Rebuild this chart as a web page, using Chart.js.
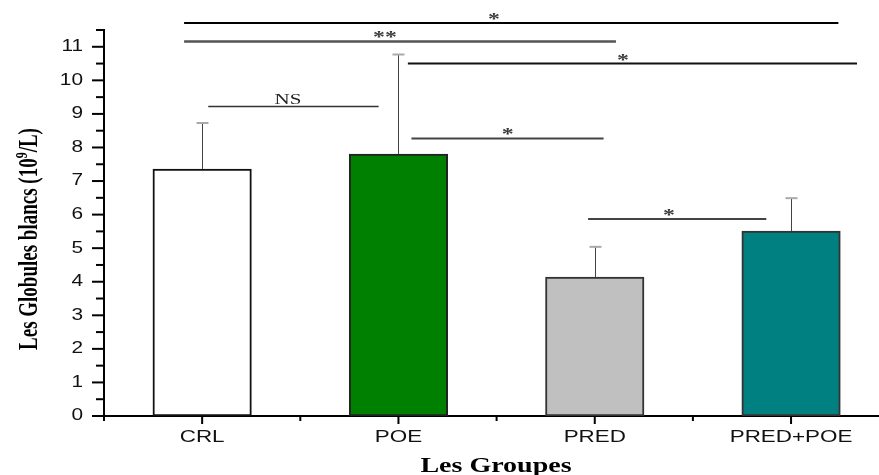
<!DOCTYPE html>
<html><head><meta charset="utf-8">
<script src="https://cdn.jsdelivr.net/npm/chart.js@4/dist/chart.umd.min.js"></script>
<style>html,body{margin:0;padding:0;background:#fff;overflow:hidden}canvas{display:block}</style>
</head><body>
<canvas id="c" width="879" height="475"></canvas>
<script>
// ---- data ----
const categories = ['CRL', 'POE', 'PRED', 'PRED+POE'];
const means = [7.36, 7.80, 4.14, 5.51];
const sem = [1.37, 2.97, 0.90, 0.98];
const yTickValues = [0, 1, 2, 3, 4, 5, 6, 7, 8, 9, 10, 11];
const xTitle = 'Les Groupes';
const yTitleParts = ['Les Globules blancs (10', '9', '/L)'];
// significance brackets: from/to in category units, y in data units
const brackets = [
  { from: -0.092, to: 3.241, y: 11.71, label: '*',  labelAt: 1.487 },
  { from: -0.092, to: 2.108, y: 11.16, label: '**', labelAt: 0.931 },
  { from: 0.031,  to: 0.899, y: 9.22,  label: 'NS', labelAt: 0.437 },
  { from: 1.048,  to: 3.336, y: 10.50, label: '*',  labelAt: 2.144 },
  { from: 1.066,  to: 2.045, y: 8.27,  label: '*',  labelAt: 1.556 },
  { from: 1.966,  to: 2.874, y: 5.87,  label: '*',  labelAt: 2.378 }
];

// ---- styles ----
const barColors = ['#ffffff', '#008000', '#c0c0c0', '#008080'];
const barBorders = ['#111111', '#222222', '#333333', '#333333'];
const bracketColors = ['#000000', '#555555', '#333333', '#111111', '#444444', '#444444'];
const bracketWidths = [2, 2.5, 1.5, 2, 2, 2];
const SX = 1.4; // horizontal stretch of the original picture's text

function stretchedText(ctx, text, x, y, font, align, baseline, color, sx) {
  ctx.save();
  ctx.translate(x, y);
  ctx.scale(sx, 1);
  ctx.font = font;
  ctx.textAlign = align;
  ctx.textBaseline = baseline;
  ctx.fillStyle = color;
  ctx.fillText(text, 0, 0);
  ctx.restore();
}

const decor = {
  id: 'decor',
  afterDatasetsDraw(chart) {
    const ctx = chart.ctx, xs = chart.scales.x, ys = chart.scales.y;
    ctx.save();
    means.forEach((m, i) => {
      const px = Math.round(xs.getPixelForValue(i)) + 0.5;
      const y0 = ys.getPixelForValue(m);
      const y1 = ys.getPixelForValue(m + sem[i]);
      ctx.strokeStyle = '#444';
      ctx.lineWidth = 1;
      ctx.beginPath(); ctx.moveTo(px, y0); ctx.lineTo(px, y1); ctx.stroke();
      ctx.strokeStyle = '#aaa';
      ctx.lineWidth = 2;
      ctx.beginPath(); ctx.moveTo(px - 6, y1); ctx.lineTo(px + 6, y1); ctx.stroke();
    });
    ctx.restore();
  },
  afterDraw(chart) {
    const ctx = chart.ctx, xs = chart.scales.x, ys = chart.scales.y;
    const area = chart.chartArea;
    ctx.save();
    ctx.strokeStyle = '#000';
    ctx.lineWidth = 2;
    // y ticks
    yTickValues.forEach(v => {
      const py = ys.getPixelForValue(v);
      ctx.beginPath(); ctx.moveTo(area.left - 12, py); ctx.lineTo(area.left, py); ctx.stroke();
      const mv = v + 0.5;
      if (mv <= ys.max + 1e-9) {
        const pm = ys.getPixelForValue(mv);
        ctx.beginPath(); ctx.moveTo(area.left - 8, pm); ctx.lineTo(area.left, pm); ctx.stroke();
      }
      stretchedText(ctx, String(v), area.left - 21, py, '16px "Liberation Sans", Arial, sans-serif', 'right', 'middle', '#111', 1.3);
    });
    // x ticks
    categories.forEach((c, i) => {
      const px = xs.getPixelForValue(i);
      ctx.beginPath(); ctx.moveTo(px, area.bottom); ctx.lineTo(px, area.bottom + 8); ctx.stroke();
      const pm = xs.getPixelForValue(i - 0.5);
      ctx.beginPath(); ctx.moveTo(pm, area.bottom); ctx.lineTo(pm, area.bottom + 5); ctx.stroke();
      stretchedText(ctx, c, px, area.bottom + 26, '16px "Liberation Sans", Arial, sans-serif', 'center', 'alphabetic', '#111', SX);
    });
    // brackets
    brackets.forEach((b, k) => {
      const x1 = xs.getPixelForValue(b.from), x2 = xs.getPixelForValue(b.to);
      const py = ys.getPixelForValue(b.y);
      ctx.strokeStyle = bracketColors[k];
      ctx.lineWidth = bracketWidths[k];
      ctx.beginPath(); ctx.moveTo(x1, py); ctx.lineTo(x2, py); ctx.stroke();
      const lx = xs.getPixelForValue(b.labelAt);
      if (b.label === 'NS') {
        stretchedText(ctx, b.label, lx, py - 2.5, '15px "Liberation Serif", "Times New Roman", serif', 'center', 'alphabetic', '#222', SX);
      } else {
        stretchedText(ctx, b.label, lx, py + 1, 'bold 17px "Liberation Serif", "Times New Roman", serif', 'center', 'alphabetic', '#3a3a3a', SX);
      }
    });
    // x title
    stretchedText(ctx, xTitle, 496, 472, 'bold 20px "Liberation Serif", "Times New Roman", serif', 'center', 'alphabetic', '#000', SX);
    // y title (rotated, stretched across canvas x)
    ctx.save();
    ctx.translate(37, 239);
    ctx.scale(SX, 1);
    ctx.rotate(-Math.PI / 2);
    ctx.fillStyle = '#000';
    ctx.textBaseline = 'alphabetic';
    ctx.textAlign = 'left';
    const mainFont = 'bold 19px "Liberation Serif", "Times New Roman", serif';
    const supFont = 'bold 12px "Liberation Serif", "Times New Roman", serif';
    ctx.font = mainFont;
    const w0 = ctx.measureText(yTitleParts[0]).width;
    const w2 = ctx.measureText(yTitleParts[2]).width;
    ctx.font = supFont;
    const w1 = ctx.measureText(yTitleParts[1]).width;
    let x = -(w0 + w1 + w2) / 2;
    ctx.font = mainFont; ctx.fillText(yTitleParts[0], x, 0); x += w0;
    ctx.font = supFont; ctx.fillText(yTitleParts[1], x, -7); x += w1;
    ctx.font = mainFont; ctx.fillText(yTitleParts[2], x, 0);
    ctx.restore();
    ctx.restore();
  }
};

new Chart(document.getElementById('c'), {
  type: 'bar',
  data: {
    datasets: [{
      data: categories.map((c, i) => ({ x: i, y: means[i] })),
      backgroundColor: barColors,
      borderColor: barBorders,
      borderWidth: 2,
      borderSkipped: false,
      barThickness: 98.5
    }]
  },
  options: {
    responsive: false,
    devicePixelRatio: 1,
    animation: false,
    layout: { padding: { left: 96, right: 0, top: 30, bottom: 51 } },
    plugins: { legend: { display: false }, tooltip: { enabled: false }, title: { display: false } },
    scales: {
      x: {
        type: 'linear', min: -0.5, max: 3.448, offset: false,
        ticks: { display: false }, grid: { display: false },
        border: { display: true, color: '#000', width: 2 }
      },
      y: {
        type: 'linear', min: 0, max: 11.5,
        ticks: { display: false }, grid: { display: false },
        border: { display: true, color: '#000', width: 2 }
      }
    }
  },
  plugins: [decor]
});
</script>
</body></html>
